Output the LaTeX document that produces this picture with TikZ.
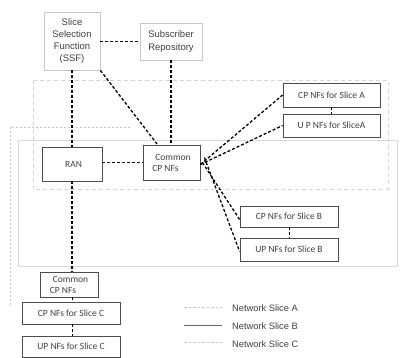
\documentclass[tikz,border=0pt]{standalone}
\usepackage{fontspec}
\setmainfont{Carlito}
\newfontfamily\arialf{Liberation Sans}
\begin{document}
\begin{tikzpicture}[x=1pt,y=-1pt,
  nfbox/.style={draw=black!70, line width=0.8pt, inner sep=0pt, font=\fontsize{9.5}{11}\selectfont, text=black!75},
  topbox/.style={draw=black!22, line width=0.8pt, inner sep=0pt, fill=white, font=\arialf\fontsize{9.5}{12.3}\selectfont, text=black!75, align=center},
  link/.style={draw=black, line width=1.3pt, dash pattern=on 3pt off 2pt},
  regA/.style={draw=black!17, line width=0.7pt, dash pattern=on 4pt off 3pt},
  regB/.style={draw=black!15, line width=0.9pt},
  regC/.style={draw=black!22, line width=0.6pt, dash pattern=on 2pt off 2pt},
  legtext/.style={anchor=west, inner sep=0pt, font=\arialf\fontsize{9.3}{11}\selectfont, text=black!75}]
\useasboundingbox (0,0) rectangle (400,358);
% regions
\draw[regB] (18,140) rectangle (397,266);
\draw[regA] (33,80) rectangle (388,189);
\draw[regC] (130,127) -- (10,127) -- (10,307);
% top boxes
\node[topbox, minimum width=56pt, minimum height=58pt] (ssf) at (72,41) {Slice\\Selection\\Function\\(SSF)};
\node[topbox, minimum width=62pt, minimum height=37pt] (sub) at (171,41.5) {Subscriber\\Repository};
% main boxes
\node[nfbox, minimum width=60pt, minimum height=34pt] (ran) at (72,164) {\hspace*{3pt}RAN};
\node[nfbox, minimum width=57pt, minimum height=35pt, align=left] (ccp) at (171.5,162.5) {\hspace*{3pt}Common\\CP NFs};
\node[nfbox, minimum width=97pt, minimum height=24pt] (cpa) at (331.5,95) {CP NFs for Slice A};
\node[nfbox, minimum width=97pt, minimum height=23pt] (upa) at (331.5,125.5) {U P NFs for SliceA};
\node[nfbox, minimum width=98pt, minimum height=21pt] (cpb) at (289,216.5) {CP NFs for Slice B};
\node[nfbox, minimum width=98pt, minimum height=23pt] (upb) at (289,249.5) {UP NFs for Slice B};
\node[nfbox, minimum width=58pt, minimum height=25pt, align=left] (ccpc) at (69,284.5) {\hspace*{3pt}Common\\CP NFs};
\node[nfbox, minimum width=98pt, minimum height=22pt] (cpc) at (71,313) {CP NFs for Slice C};
\node[nfbox, minimum width=98pt, minimum height=21pt] (upc) at (71,346.5) {UP NFs for Slice C};
% connectors
\draw[link] (ssf.east |- sub.west) -- (sub.west);
\draw[link] (ssf.south) -- (ran.north);
\draw[link] (sub.south) -- (sub.south |- ccp.north);
\draw[link] (ssf.south east) -- ([xshift=-14pt]ccp.north);
\draw[link] (ran.east |- ccp.west) -- (ccp.west);
\draw[link] ([yshift=-2pt]ccp.east) -- (cpa.west);
\draw[link] ([yshift=-2pt]ccp.east) -- (upa.west);
\draw[link] ([xshift=2pt,yshift=0pt]ccp.east) -- ([yshift=-3pt]cpb.west);
\draw[link] ([xshift=4pt,yshift=5pt]ccp.east) -- ([yshift=-2pt]upb.west);
\draw[link, line width=0.9pt] (cpa.south) -- (upa.north);
\draw[link, line width=0.9pt] (cpb.south) -- (upb.north);
\draw[link] (ran.south) -- (ran.south |- ccpc.north);
\draw[link, line width=0.9pt] (ran.south |- ccpc.south) -- (ran.south |- cpc.north);
\draw[link, line width=0.9pt] (ran.south |- cpc.south) -- (ran.south |- upc.north);
% legend
\node[legtext] (ta) at (232,308) {Network Slice A};
\node[legtext] (tb) at (232,326) {Network Slice B};
\node[legtext] (tc) at (232,344) {Network Slice C};
\coordinate (la) at (184,307);
\coordinate (lb) at (184,325);
\coordinate (lc) at (184,342);
\draw[draw=black!22, line width=0.6pt, dash pattern=on 2.5pt off 2pt] (la) -- ([xshift=-10pt]ta.west |- la);
\draw[draw=black!60, line width=0.7pt] (lb) -- ([xshift=-10pt]tb.west |- lb);
\draw[draw=black!22, line width=0.6pt, dash pattern=on 2.5pt off 2pt] (lc) -- ([xshift=-10pt]tc.west |- lc);
\end{tikzpicture}
\end{document}
